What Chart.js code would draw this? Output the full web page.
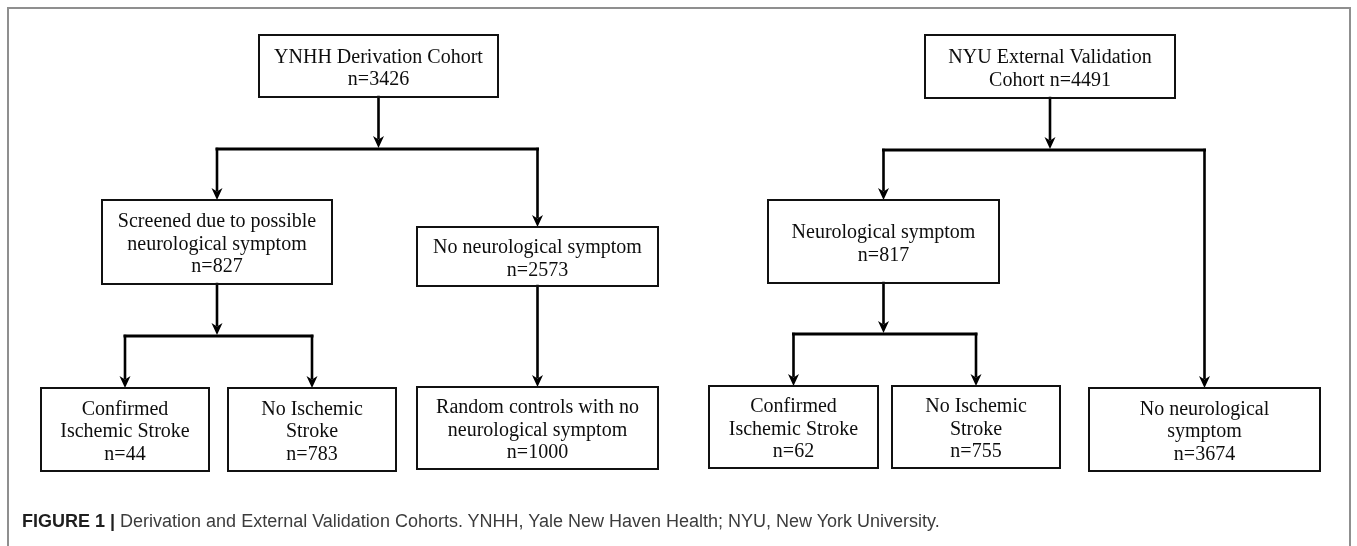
<!DOCTYPE html>
<html>
<head>
<meta charset="utf-8">
<script src="https://cdn.jsdelivr.net/npm/chart.js@4/dist/chart.umd.min.js"></script>
<style>
html,body{margin:0;padding:0;background:#fff;}
#wrap{position:relative;width:1357px;height:546px;overflow:hidden;}
#frame{position:absolute;left:7px;top:7px;width:1344px;height:600px;border:2px solid #8f8f8f;box-sizing:border-box;}
#c{position:absolute;left:0;top:0;}
#cap{position:absolute;left:22px;top:511px;font:18px "Liberation Sans",Arial,sans-serif;color:#3c3c3c;white-space:nowrap;}
#cap b{color:#1e1e1e;}
</style>
</head>
<body>
<div id="wrap">
  <div id="frame"></div>
  <canvas id="c" width="1357" height="546"></canvas>
  <div id="cap"><b>FIGURE 1 |</b> Derivation and External Validation Cohorts. YNHH, Yale New Haven Health; NYU, New York University.</div>
</div>
<script>
// ── data ─────────────────────────────────────────
const nodeIds=['ynhh','screened','noSym','confY','noStrokeY','controls','nyu','neuro','confN','noStrokeN','noSymN'];
const nodeText=[
  ['YNHH Derivation Cohort'],
  ['Screened due to possible','neurological symptom'],
  ['No neurological symptom'],
  ['Confirmed','Ischemic Stroke'],
  ['No Ischemic','Stroke'],
  ['Random controls with no','neurological symptom'],
  ['NYU External Validation','Cohort'],
  ['Neurological symptom'],
  ['Confirmed','Ischemic Stroke'],
  ['No Ischemic','Stroke'],
  ['No neurological','symptom']
];
const nodeCounts=[3426,827,2573,44,783,1000,4491,817,62,755,3674];
const countInline=['nyu'];   // n= goes on the same line
const edges=[
  ['ynhh',['screened','noSym']],
  ['screened',['confY','noStrokeY']],
  ['noSym',['controls']],
  ['nyu',['neuro','noSymN']],
  ['neuro',['confN','noStrokeN']]
];

// ── layout (page units, y down) ─────────────────
const W=1357,H=546;
const boxes={
  ynhh:[259,35,498,97],  screened:[102,200,332,284], noSym:[417,227,658,286],
  confY:[41,388,209,471], noStrokeY:[228,388,396,471], controls:[417,387,658,469],
  nyu:[925,35,1175,98],  neuro:[768,200,999,283],
  confN:[709,386,878,468], noStrokeN:[892,386,1060,468], noSymN:[1089,388,1320,471]
};
const busY={ynhh:149,screened:336,nyu:150,neuro:334};
const HEAD=12, HALF=5.5;

const cx=id=>(boxes[id][0]+boxes[id][2])/2;

// connectors as line datasets
const lineSets=[], heads=[];
function seg(pts,w){
  lineSets.push({type:'line',data:pts,showLine:true,pointRadius:0,borderColor:'#000',
    borderWidth:w,fill:false,tension:0,borderCapStyle:'square',borderJoinStyle:'miter'});
}
edges.forEach(([p,kids])=>{
  const px=cx(p), pb=boxes[p][3];
  if(kids.length===1){
    const k=kids[0], top=boxes[k][1];
    seg([{x:px,y:pb},{x:px,y:top-HEAD+2}],2.6);
    heads.push([px,top]);
    return;
  }
  const by=busY[p];
  seg([{x:px,y:pb},{x:px,y:by-HEAD+1}],2.6);
  heads.push([px,by-1]);
  const xs=kids.map(cx);
  seg([{x:Math.min(...xs),y:by},{x:Math.max(...xs),y:by}],3);
  kids.forEach(k=>{
    seg([{x:cx(k),y:by},{x:cx(k),y:boxes[k][1]-HEAD+2}],2.6);
    heads.push([cx(k),boxes[k][1]]);
  });
});

const flowPlugin={
  id:'flow',
  afterDatasetsDraw(chart){
    const {ctx,scales:{x,y}}=chart;
    ctx.save();
    // arrow heads
    ctx.fillStyle='#000';
    heads.forEach(([hx,hy])=>{
      const X=x.getPixelForValue(hx), Y=y.getPixelForValue(hy);
      ctx.beginPath();
      ctx.moveTo(X,Y);
      ctx.lineTo(X-HALF,Y-HEAD);
      ctx.lineTo(X,Y-HEAD+3.5);
      ctx.lineTo(X+HALF,Y-HEAD);
      ctx.closePath();
      ctx.fill();
    });
    // boxes + text
    ctx.strokeStyle='#111';
    ctx.lineWidth=2;
    ctx.font='20px "Liberation Serif","Times New Roman",serif';
    ctx.textAlign='center';
    ctx.textBaseline='middle';
    nodeIds.forEach((id,i)=>{
      const b=boxes[id];
      const x0=x.getPixelForValue(b[0]), x1=x.getPixelForValue(b[2]);
      const y0=y.getPixelForValue(b[1]), y1=y.getPixelForValue(b[3]);
      ctx.strokeRect(x0,y0,x1-x0,y1-y0);
      const lines=nodeText[i].slice();
      const n='n='+nodeCounts[i];
      if(countInline.includes(id)) lines[lines.length-1]+=' '+n; else lines.push(n);
      const lh=22.5, mid=(y0+y1)/2+2.5;
      lines.forEach((t,j)=>{
        ctx.fillStyle='#0d0d0d';
        ctx.fillText(t,(x0+x1)/2,mid+(j-(lines.length-1)/2)*lh);
      });
    });
    ctx.restore();
  }
};

new Chart(document.getElementById('c'),{
  type:'scatter',
  data:{datasets:lineSets},
  options:{
    responsive:false,animation:false,
    layout:{padding:0},
    plugins:{legend:{display:false},tooltip:{enabled:false},title:{display:false}},
    scales:{
      x:{type:'linear',min:0,max:W,display:false},
      y:{type:'linear',min:0,max:H,reverse:true,display:false}
    }
  },
  plugins:[flowPlugin]
});
</script>
</body>
</html>
